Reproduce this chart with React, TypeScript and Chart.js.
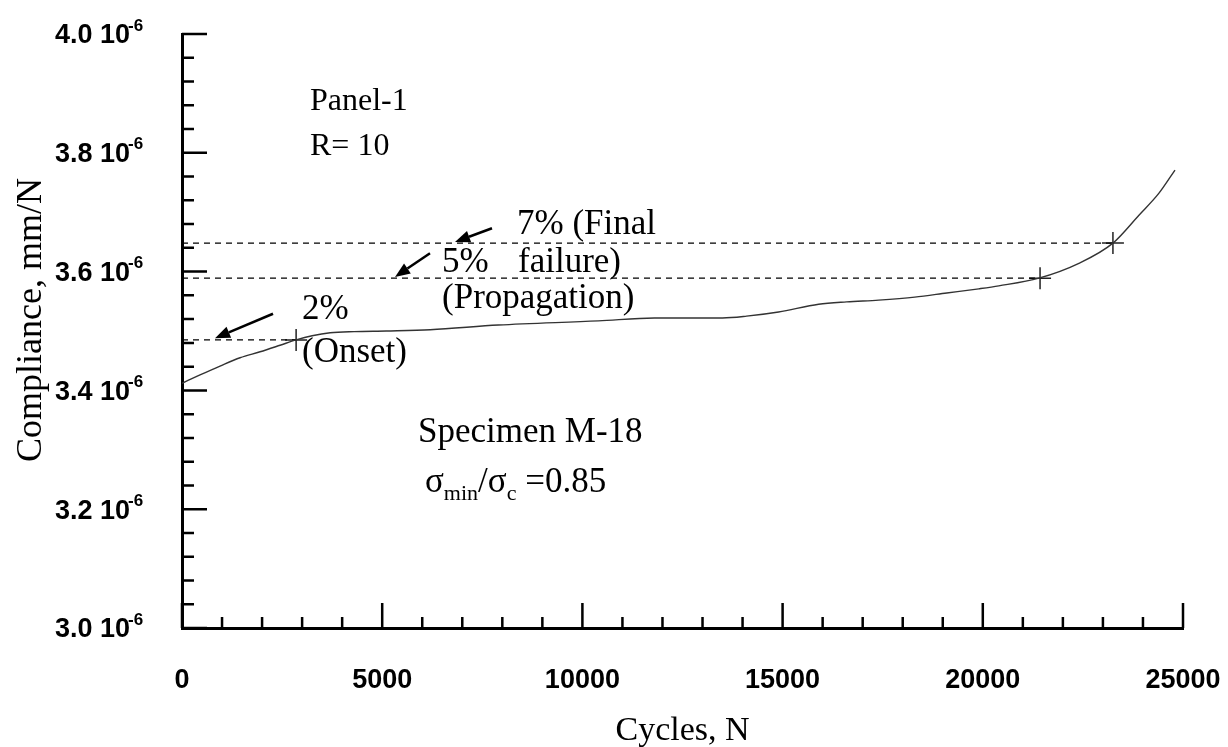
import { useEffect, useRef } from "react";
import { Chart, registerables } from "chart.js";

Chart.register(...registerables);

// ---- data (compliance in units of 1e-6 mm/N) ----
const cycles = [0, 450, 950, 1450, 1950, 2450, 2850, 3250, 3700, 4300, 5100, 6200, 7900, 10400, 11800, 13500, 14100, 14900, 15900, 16600, 17400, 18300, 19100, 19900, 20400, 21400, 22400, 23250, 23900, 24400, 24800];
const compliance = [3.412, 3.426, 3.441, 3.455, 3.465, 3.476, 3.485, 3.492, 3.497, 3.499, 3.5, 3.502, 3.51, 3.517, 3.522, 3.522, 3.525, 3.532, 3.545, 3.549, 3.552, 3.557, 3.564, 3.571, 3.576, 3.589, 3.614, 3.648, 3.695, 3.732, 3.771];

const markerCycles = [2850, 21430, 23250];
const markerCompliance = [3.485, 3.589, 3.648];

const xMajorTicks = [0, 5000, 10000, 15000, 20000, 25000];
const xTickLabels = ["0", "5000", "10000", "15000", "20000", "25000"];
const yMajorTicks = [3.0, 3.2, 3.4, 3.6, 3.8, 4.0];
const yTickLabels = ["3.0 10", "3.2 10", "3.4 10", "3.6 10", "3.8 10", "4.0 10"];
const yTickExponent = "-6";

const xTitle = "Cycles, N";
const yTitle = "Compliance, mm/N";

// annotation texts, anchored in data coordinates (left, baseline)
const notes = [
  { text: "Panel-1", c: 3197, v: 3.872, size: 32 },
  { text: "R= 10", c: 3197, v: 3.796, size: 32 },
  { text: "7% (Final", c: 8367, v: 3.663, size: 35 },
  { text: "5%", c: 6494, v: 3.599, size: 35 },
  { text: "failure)", c: 8392, v: 3.599, size: 35 },
  { text: "(Propagation)", c: 6494, v: 3.539, size: 35 },
  { text: "2%", c: 2997, v: 3.52, size: 35 },
  { text: "(Onset)", c: 2997, v: 3.448, size: 35 },
  { text: "Specimen M-18", c: 5894, v: 3.313, size: 35 },
];
const sigmaNote = { c: 6069, v: 3.229 };

// arrows: tail -> tip, data coordinates
const arrows = [
  { c1: 2273, v1: 3.529, c2: 824, v2: 3.488 },
  { c1: 6194, v1: 3.631, c2: 5320, v2: 3.591 },
  { c1: 7742, v1: 3.673, c2: 6818, v2: 3.65 },
];

const SERIF = "'Liberation Serif', 'Times New Roman', serif";
const SANS = "'Liberation Sans', Arial, sans-serif";

function drawArrow(ctx: CanvasRenderingContext2D, x1: number, y1: number, x2: number, y2: number) {
  const ang = Math.atan2(y2 - y1, x2 - x1);
  const hl = 15;
  const hw = 6;
  const bx = x2 - hl * Math.cos(ang);
  const by = y2 - hl * Math.sin(ang);
  ctx.beginPath();
  ctx.moveTo(x1, y1);
  ctx.lineTo(bx, by);
  ctx.lineWidth = 2.5;
  ctx.strokeStyle = "#000";
  ctx.stroke();
  ctx.beginPath();
  ctx.moveTo(x2, y2);
  ctx.lineTo(bx + hw * Math.sin(ang), by - hw * Math.cos(ang));
  ctx.lineTo(bx - hw * Math.sin(ang), by + hw * Math.cos(ang));
  ctx.closePath();
  ctx.fillStyle = "#000";
  ctx.fill();
}

const overlay = {
  id: "overlay",
  afterDraw(chart: any) {
    const { ctx, chartArea: a } = chart;
    const x = chart.scales.x;
    const y = chart.scales.y;
    ctx.save();
    ctx.strokeStyle = "#000";
    ctx.fillStyle = "#000";

    // inner ticks
    ctx.lineWidth = 2.5;
    ctx.beginPath();
    for (let t = 0; t <= 25000; t += 1000) {
      const px = x.getPixelForValue(t);
      const major = t % 5000 === 0;
      ctx.moveTo(px, a.bottom);
      ctx.lineTo(px, a.bottom - (major ? 25 : 11));
    }
    for (let i = 0; i <= 25; i++) {
      const v = 3.0 + i * 0.04;
      const py = y.getPixelForValue(v);
      const major = i % 5 === 0;
      ctx.moveTo(a.left, py);
      ctx.lineTo(a.left + (major ? 25 : 12), py);
    }
    ctx.stroke();

    // x tick labels
    ctx.font = `bold 27px ${SANS}`;
    ctx.textAlign = "center";
    ctx.textBaseline = "middle";
    xMajorTicks.forEach((t, i) => {
      ctx.fillText(xTickLabels[i], x.getPixelForValue(t), a.bottom + 53);
    });

    // y tick labels with exponent
    yMajorTicks.forEach((v, i) => {
      const py = y.getPixelForValue(v);
      ctx.font = `bold 27px ${SANS}`;
      ctx.textAlign = "right";
      ctx.textBaseline = "middle";
      ctx.fillText(yTickLabels[i], a.left - 52, py + 2);
      ctx.font = `bold 17px ${SANS}`;
      ctx.textAlign = "left";
      ctx.fillText(yTickExponent, a.left - 54, py - 8);
    });

    // axis titles
    ctx.font = `34px ${SERIF}`;
    ctx.textAlign = "center";
    ctx.textBaseline = "alphabetic";
    ctx.fillText(xTitle, (a.left + a.right) / 2, 740);
    ctx.font = `36px ${SERIF}`;
    ctx.save();
    ctx.translate(41, 320);
    ctx.rotate(-Math.PI / 2);
    ctx.fillText(yTitle, 0, 0);
    ctx.restore();

    // annotation texts
    ctx.textAlign = "left";
    notes.forEach((n) => {
      ctx.font = `${n.size}px ${SERIF}`;
      ctx.fillText(n.text, x.getPixelForValue(n.c), y.getPixelForValue(n.v));
    });

    // sigma_min / sigma_c = 0.85
    let sx = x.getPixelForValue(sigmaNote.c);
    const sy = y.getPixelForValue(sigmaNote.v);
    const parts: [string, number, number][] = [
      ["σ", 35, 0],
      ["min", 22, 8],
      ["/", 35, 0],
      ["σ", 35, 0],
      ["c", 22, 8],
      [" =0.85", 35, 0],
    ];
    parts.forEach(([s, size, dy]) => {
      ctx.font = `${size}px ${SERIF}`;
      ctx.fillText(s, sx, sy + dy);
      sx += ctx.measureText(s).width;
    });

    // arrows
    arrows.forEach((r) => {
      drawArrow(ctx, x.getPixelForValue(r.c1), y.getPixelForValue(r.v1), x.getPixelForValue(r.c2), y.getPixelForValue(r.v2));
    });

    ctx.restore();
  },
};

export default function App() {
  const ref = useRef<HTMLCanvasElement | null>(null);

  useEffect(() => {
    if (!ref.current) return;
    const curve = cycles.map((c, i) => ({ x: c, y: compliance[i] }));
    const markers = markerCycles.map((c, i) => ({ x: c, y: markerCompliance[i] }));
    const dashed = markerCycles.map((c, i) => ({
      type: "line" as const,
      data: [
        { x: 0, y: markerCompliance[i] },
        { x: c, y: markerCompliance[i] },
      ],
      borderColor: "#000",
      borderWidth: 1.4,
      borderDash: [6, 5],
      pointRadius: 0,
      fill: false,
    }));

    const chart = new Chart(ref.current, {
      type: "line",
      data: {
        datasets: [
          {
            data: curve,
            borderColor: "#333",
            borderWidth: 1.4,
            pointRadius: 0,
            cubicInterpolationMode: "monotone",
            fill: false,
          },
          ...dashed,
          {
            type: "scatter",
            data: markers,
            pointStyle: "cross",
            pointRadius: 11,
            pointBorderColor: "#222",
            pointBorderWidth: 1.5,
            showLine: false,
          } as any,
        ],
      },
      options: {
        responsive: false,
        animation: false,
        events: [],
        layout: { padding: { left: 182, right: 45, top: 34, bottom: 119 } },
        plugins: { legend: { display: false }, tooltip: { enabled: false } },
        scales: {
          x: {
            type: "linear",
            min: 0,
            max: 25000,
            grid: { display: false, drawTicks: false },
            ticks: { display: false },
            border: { display: true, color: "#000", width: 3 },
          },
          y: {
            type: "linear",
            min: 3.0,
            max: 4.0,
            grid: { display: false, drawTicks: false },
            ticks: { display: false },
            border: { display: true, color: "#000", width: 3 },
          },
        },
      },
      plugins: [overlay],
    });
    return () => chart.destroy();
  }, []);

  return (
    <div style={{ position: "fixed", left: 0, top: 0, width: 1228, height: 747, background: "#fff" }}>
      <canvas ref={ref} width={1228} height={747} style={{ display: "block" }} />
    </div>
  );
}
